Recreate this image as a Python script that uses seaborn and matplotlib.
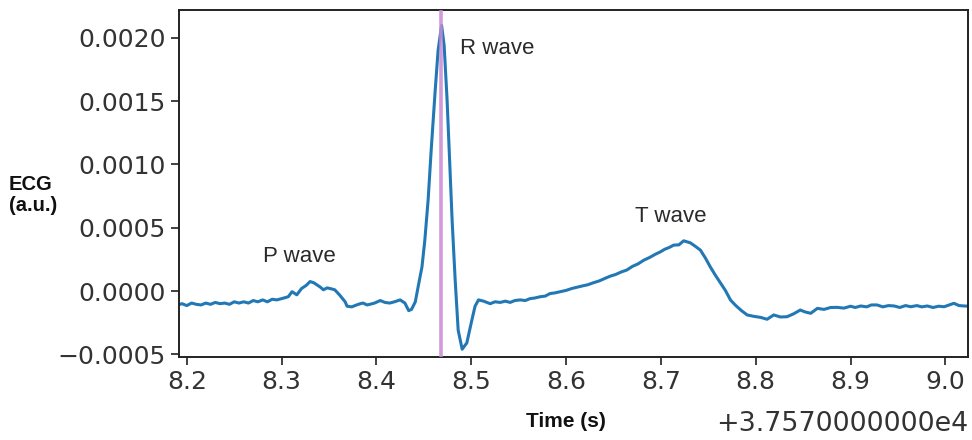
import numpy as np
import pandas as pd
import matplotlib
matplotlib.use("Agg")
import matplotlib.pyplot as plt
from matplotlib.ticker import ScalarFormatter, MultipleLocator
from matplotlib.transforms import ScaledTranslation
import seaborn as sns

# ---- data ----
time_offset = 37570.0
time_rel = [
    8.190, 8.195, 8.200, 8.205, 8.210, 8.215, 8.220, 8.225, 8.230, 8.235,
    8.240, 8.245, 8.250, 8.255, 8.260, 8.265, 8.270, 8.275, 8.280, 8.285,
    8.290, 8.295, 8.300, 8.307, 8.311, 8.316, 8.321, 8.326, 8.330, 8.334,
    8.337, 8.341, 8.344, 8.348, 8.351, 8.356, 8.361, 8.367, 8.369, 8.374,
    8.379, 8.383, 8.386, 8.390, 8.393, 8.398, 8.404, 8.409, 8.414, 8.419,
    8.425, 8.430, 8.434, 8.437, 8.441, 8.444, 8.448, 8.451, 8.4545, 8.4577,
    8.4619, 8.465, 8.4687, 8.4714, 8.4745, 8.4767, 8.4798, 8.483, 8.4862, 8.4904,
    8.4953, 8.5006, 8.504, 8.5076, 8.513, 8.520, 8.525, 8.5305, 8.536, 8.541,
    8.546, 8.5516, 8.557, 8.562, 8.567, 8.5727, 8.578, 8.583, 8.588, 8.594,
    8.600, 8.606, 8.6115, 8.617, 8.623, 8.629, 8.635, 8.641, 8.6467, 8.652,
    8.658, 8.664, 8.670, 8.676, 8.682, 8.688, 8.694, 8.6995, 8.704, 8.709,
    8.7135, 8.719, 8.724, 8.731, 8.736, 8.7417, 8.747, 8.752, 8.757, 8.763,
    8.768, 8.7734, 8.779, 8.785, 8.791, 8.798, 8.805, 8.812, 8.819, 8.826,
    8.833, 8.840, 8.847, 8.852, 8.858, 8.865, 8.872, 8.879, 8.886, 8.893,
    8.900, 8.905, 8.9107, 8.917, 8.922, 8.928, 8.934, 8.940, 8.946, 8.952,
    8.958, 8.9635, 8.970, 8.975, 8.981, 8.987, 8.993, 8.9987, 9.004, 9.009,
    9.0145, 9.0197, 9.025,
]
# ECG amplitude in units of 1e-4 a.u.
ecg_e4 = [
    -1.10, -1.00, -1.15, -0.95, -1.05, -1.10, -0.95, -1.05, -0.90, -1.00,
    -0.95, -1.05, -0.85, -0.95, -0.85, -0.95, -0.75, -0.85, -0.70, -0.85,
    -0.65, -0.70, -0.60, -0.45, -0.05, -0.30, 0.20, 0.45, 0.75, 0.65,
    0.50, 0.30, 0.10, 0.25, 0.20, 0.10, -0.30, -0.85, -1.20, -1.25,
    -1.10, -1.00, -0.95, -1.10, -1.05, -0.95, -0.75, -0.90, -0.95, -0.85,
    -0.70, -0.95, -1.55, -1.45, -0.85, 0.35, 1.90, 4.00, 7.20, 11.10,
    15.80, 19.00, 21.00, 19.40, 15.10, 11.10, 5.60, 0.90, -3.10, -4.60,
    -4.10, -2.30, -1.20, -0.70, -0.80, -1.00, -0.85, -0.90, -0.80, -0.90,
    -0.75, -0.70, -0.75, -0.60, -0.55, -0.45, -0.40, -0.20, -0.15, -0.05,
    0.05, 0.20, 0.30, 0.40, 0.50, 0.66, 0.80, 1.00, 1.18, 1.30,
    1.50, 1.66, 1.95, 2.15, 2.44, 2.65, 2.90, 3.10, 3.30, 3.45,
    3.63, 3.65, 3.97, 3.81, 3.55, 3.23, 2.60, 1.92, 1.30, 0.61,
    0.05, -0.71, -1.15, -1.55, -1.89, -2.00, -2.08, -2.23, -1.89, -2.05,
    -2.03, -1.80, -1.50, -1.65, -1.76, -1.37, -1.45, -1.30, -1.29, -1.35,
    -1.20, -1.30, -1.18, -1.25, -1.10, -1.10, -1.25, -1.15, -1.18, -1.30,
    -1.15, -1.24, -1.15, -1.25, -1.18, -1.30, -1.20, -1.24, -1.10, -0.97,
    -1.15, -1.18, -1.20,
]
r_peak_rel = 8.468
wave_labels = ["P wave", "R wave", "T wave"]
wave_label_x_rel = [8.2805, 8.4885, 8.673]
wave_label_y = [0.00027, 0.00192, 0.00059]

df = pd.DataFrame({
    "time": np.array(time_rel) + time_offset,
    "ecg": np.array(ecg_e4) * 1e-4,
})


class LongOffsetFormatter(ScalarFormatter):
    """ScalarFormatter whose offset text keeps 10 decimals (+3.7570000000e4)."""
    def get_offset(self):
        if not self.offset:
            return super().get_offset()
        e = int(np.floor(np.log10(abs(self.offset))))
        s = self.offset / 10 ** e
        sign = "+" if self.offset > 0 else "\u2212"
        return f"{sign}{abs(s):1.10f}e{e}"


# ---- style ----
sns.set_theme(style="ticks")
plt.rcParams["font.family"] = ["DejaVu Sans"]

fig = plt.figure(figsize=(9.72, 4.4), dpi=100)
ax = fig.add_axes([0.184, 0.189, 0.812, 0.788])

sns.lineplot(data=df, x="time", y="ecg", ax=ax, color="#2278b5",
             linewidth=2.2, sort=False, estimator=None)
ax.axvline(r_peak_rel + time_offset, color="#c98ad3", linewidth=2.6,
           alpha=0.85, zorder=3)

for lab, xr, yv in zip(wave_labels, wave_label_x_rel, wave_label_y):
    ax.text(xr + time_offset, yv, lab, fontsize=16, color="#2a2a2a",
            family=["Liberation Sans", "DejaVu Sans"], ha="left", va="center")

ax.set_xlim(8.1916 + time_offset, 9.024 + time_offset)
ax.set_ylim(-0.00052, 0.00222)
ax.xaxis.set_major_locator(MultipleLocator(0.1))
ax.yaxis.set_major_locator(MultipleLocator(0.0005))
ax.xaxis.set_major_formatter(LongOffsetFormatter(useOffset=time_offset))
ax.set_xlabel("")
ax.set_ylabel("")
ax.tick_params(axis="both", labelsize=18, length=6, width=1.3,
               colors="#333333", labelcolor="#333333")
off = ax.xaxis.get_offset_text()
off.set_fontsize(19.4)
off.set_color("#333333")
off.set_transform(off.get_transform() +
                  ScaledTranslation(0, -9 / 72, fig.dpi_scale_trans))
for sp in ax.spines.values():
    sp.set_linewidth(1.4)
    sp.set_color("#222222")

fig.text(0.009, 0.557, "ECG\n(a.u.)", fontsize=14.5, fontweight="bold",
         family=["Liberation Sans", "DejaVu Sans"], ha="left", va="center",
         linespacing=1.1, color="#111111")
fig.text(0.582, 0.042, "Time (s)", fontsize=15, fontweight="bold",
         family=["Liberation Sans", "DejaVu Sans"],
         ha="center", va="center", color="#111111")

fig.savefig("out.png", dpi=100)
